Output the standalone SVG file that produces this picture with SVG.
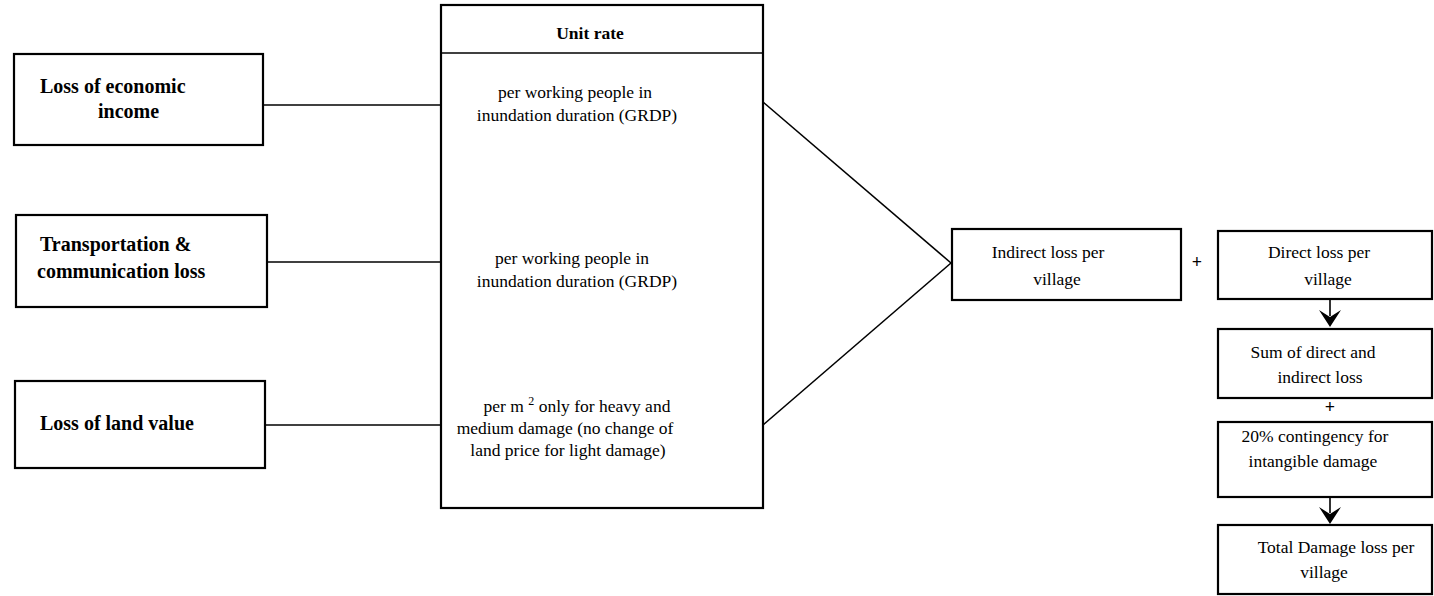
<svg xmlns="http://www.w3.org/2000/svg" width="1434" height="596" viewBox="0 0 1434 596">
  <style>
    .box { fill: #fff; stroke: #000; stroke-width: 2.2; }
    .wire { fill: none; stroke: #000; stroke-width: 1.6; }
    .lbl { font-family: "Liberation Serif", "Times New Roman", serif; font-weight: bold; font-size: 20px; fill: #000; }
    .rate { font-family: "Liberation Serif", "Times New Roman", serif; font-size: 17.5px; fill: #000; text-anchor: middle; }
    .res { font-family: "Liberation Serif", "Times New Roman", serif; font-size: 17.5px; fill: #000; text-anchor: middle; }
    .op { font-family: "Liberation Serif", "Times New Roman", serif; font-size: 18px; font-weight: bold; fill: #000; text-anchor: middle; }
  </style>
  <rect width="1434" height="596" fill="#fff"/>

  <!-- connectors -->
  <g id="connectors">
    <line class="wire" x1="263" y1="105" x2="441" y2="105"/>
    <line class="wire" x1="267" y1="262" x2="441" y2="262"/>
    <line class="wire" x1="265" y1="425" x2="441" y2="425"/>
    <line class="wire" x1="763" y1="102" x2="951" y2="263"/>
    <line class="wire" x1="763" y1="425" x2="951" y2="263"/>
    <line class="wire" x1="1330" y1="300" x2="1330" y2="316" stroke-width="2.5"/>
    <path d="M1319,310 L1330,327 L1341,310 L1330,317 Z" fill="#000"/>
    <line class="wire" x1="1330" y1="497" x2="1330" y2="513" stroke-width="2.5"/>
    <path d="M1319,507 L1330,524 L1341,507 L1330,514 Z" fill="#000"/>
  </g>

  <!-- loss categories -->
  <g id="loss-income">
    <rect class="box" x="14" y="54" width="249" height="91"/>
    <text class="lbl" x="40" y="93">Loss of economic</text>
    <text class="lbl" x="98" y="118">income</text>
  </g>
  <g id="loss-transport">
    <rect class="box" x="16" y="215" width="251" height="92"/>
    <text class="lbl" x="40" y="251">Transportation &amp;</text>
    <text class="lbl" x="37" y="278">communication loss</text>
  </g>
  <g id="loss-land">
    <rect class="box" x="15" y="381" width="250" height="87"/>
    <text class="lbl" x="40" y="430">Loss of land value</text>
  </g>

  <!-- unit rate table -->
  <g id="unit-rate">
    <rect class="box" x="441" y="5" width="322" height="503"/>
    <line class="wire" x1="441" y1="53" x2="763" y2="53" stroke-width="2"/>
    <text class="rate" x="590" y="39" font-weight="bold" font-size="18">Unit rate</text>
    <text class="rate" x="575" y="98">per working people in</text>
    <text class="rate" x="577" y="121">inundation duration (GRDP)</text>
    <text class="rate" x="572" y="264">per working people in</text>
    <text class="rate" x="577" y="287">inundation duration (GRDP)</text>
    <text class="rate" x="577" y="412">per m <tspan dy="-7" font-size="12">2</tspan><tspan dy="7"> only for heavy and</tspan></text>
    <text class="rate" x="565" y="434">medium damage (no change of</text>
    <text class="rate" x="568" y="456">land price for light damage)</text>
  </g>

  <!-- totals -->
  <g id="indirect-loss">
    <rect class="box" x="952" y="229" width="229" height="71"/>
    <text class="res" x="1048" y="258">Indirect loss per</text>
    <text class="res" x="1057" y="285">village</text>
  </g>
  <text class="op" x="1197" y="268">+</text>
  <g id="direct-loss">
    <rect class="box" x="1218" y="231" width="214" height="68"/>
    <text class="res" x="1319" y="258">Direct loss per</text>
    <text class="res" x="1328" y="285">village</text>
  </g>
  <g id="sum-loss">
    <rect class="box" x="1218" y="329" width="214" height="69"/>
    <text class="res" x="1313" y="358">Sum of direct and</text>
    <text class="res" x="1320" y="383">indirect loss</text>
  </g>
  <text class="op" x="1330" y="413">+</text>
  <g id="contingency">
    <rect class="box" x="1218" y="422" width="214" height="75"/>
    <text class="res" x="1315" y="442">20% contingency for</text>
    <text class="res" x="1313" y="467">intangible damage</text>
  </g>
  <g id="total-loss">
    <rect class="box" x="1218" y="525" width="214" height="69"/>
    <text class="res" x="1336" y="553">Total Damage loss per</text>
    <text class="res" x="1324" y="578">village</text>
  </g>
</svg>
